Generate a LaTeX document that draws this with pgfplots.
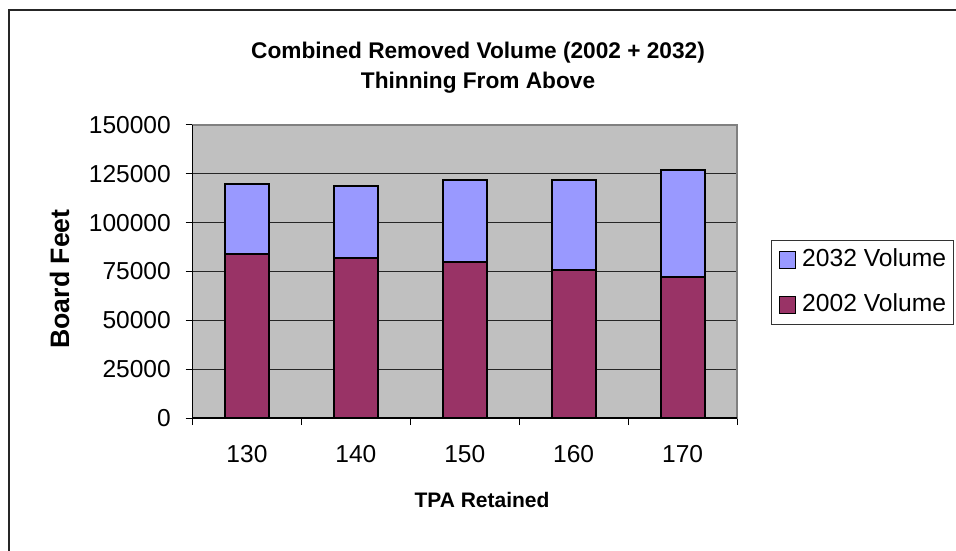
\documentclass[border=0pt]{standalone}
\usepackage{pgfplots}
\pgfplotsset{compat=1.18}
\usepackage{fontspec}
\setmainfont{Liberation Sans}
\definecolor{plotgray}{HTML}{C0C0C0}
\definecolor{vol02}{HTML}{993366}
\definecolor{vol32}{HTML}{9999FF}
\begin{document}
\begin{tikzpicture}[x=0.75pt,y=0.75pt]
\useasboundingbox (0,0) rectangle (956,550);
\clip (0,0) rectangle (956,550);
\draw[black!85,line width=1.5pt] (9,-20) rectangle (990,540);
\begin{axis}[name=ax,at={(144.375pt,99pt)},anchor=south west,scale only axis,
  width=408.4pt,height=219.75pt,
  ybar stacked,bar width=33pt,
  xmin=0.5,xmax=5.5,ymin=0,ymax=150000,
  xtick={0.5,1.5,...,5.5},xticklabels={},
  extra x ticks={1,2,3,4,5},extra x tick labels={130,140,150,160,170},
  extra x tick style={major tick length=0pt},
  ytick={0,25000,...,150000},
  xtick pos=bottom,ytick pos=left,
  ymajorgrids,xmajorgrids=false,
  grid style={black!85,line width=0.75pt},
  tick align=outside,major tick length=5.25pt,
  tick style={black,line width=0.75pt},
  scaled y ticks=false,
  /pgf/number format/.cd,fixed,precision=0,1000 sep={},assume math mode=true,/pgfplots/.cd,
  ticklabel style={font=\fontsize{18.4}{22}\selectfont},
  yticklabel style={anchor=east,inner sep=0pt,xshift=-10.85pt},
  xticklabel style={anchor=north,inner sep=0pt,yshift=-20pt},
  axis background/.style={fill=plotgray},
  axis line style={draw=black!50,line width=1.2pt},
  every axis plot/.append style={draw=black,line width=1.5pt},
  legend image code/.code={\draw[#1,line width=0.75pt] (0pt,-6.2pt) rectangle (12.4pt,6.2pt);},
  reverse legend,
  legend style={at={(1.0619,0.6075)},anchor=north west,draw=black!80,line width=0.75pt,fill=white,
    font=\fontsize{18.5}{22}\selectfont,inner xsep=5.5pt,inner ysep=6pt,row sep=16.75pt,
    column sep=4.5pt,
    nodes={inner sep=0pt,text height=13.5pt,text depth=3.5pt}},
  legend cell align=left,
]
\addplot[fill=vol02] coordinates {(1,84000) (2,82000) (3,80000) (4,76000) (5,72000)};
\addlegendentry{2002 Volume}
\addplot[fill=vol32] coordinates {(1,36000) (2,37000) (3,42000) (4,46000) (5,55000)};
\addlegendentry{2032 Volume}
\end{axis}
\draw[black,line width=1.2pt] (ax.north west) -- (ax.south west) -- (ax.south east);
\node[font=\bfseries\fontsize{17}{20}\selectfont,anchor=base] at (478,491) {Combined Removed Volume (2002 + 2032)};
\node[font=\bfseries\fontsize{17}{20}\selectfont,anchor=base] at (478,461) {Thinning From Above};
\node[rotate=90,font=\bfseries\fontsize{20}{24}\selectfont] at (59.5,271) {Board Feet};
\node[font=\bfseries\fontsize{15.75}{19}\selectfont] at (482,50) {TPA Retained};
\end{tikzpicture}
\end{document}
